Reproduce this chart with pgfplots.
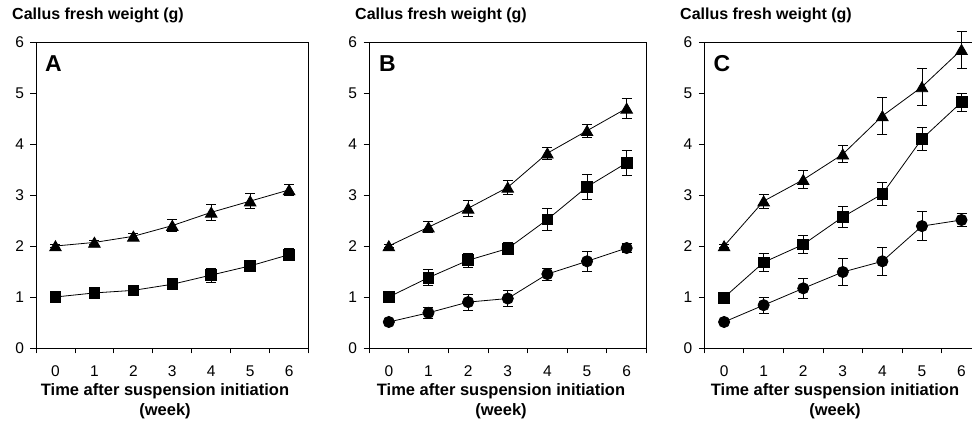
\documentclass[border=0pt]{standalone}
\usepackage{fontspec}
\setmainfont{Liberation Sans}
\usepackage{pgfplots}
\pgfplotsset{compat=1.18}

\pgfplotsset{
  panel/.style={
    scale only axis, height=306bp, clip=false,
    xmin=-0.5, xmax=6.5, ymin=0, ymax=6,
    xtick={-0.5,0.5,...,6.5}, xticklabels={0,1,2,3,4,5,6},
    x tick label as interval,
    ytick={0,...,6},
    tick pos=left, tick align=outside,
    major tick length=5.5bp,
    tick style={black, line width=0.8bp},
    axis line style={black, line width=0.8bp},
    /pgf/number format/assume math mode=true,
    tick label style={font=\fontsize{15.5bp}{15.5bp}\selectfont},
    xticklabel style={yshift=-9bp},
    yticklabel style={xshift=-3bp},
  },
  ser/.style={black, line width=0.8bp, mark=#1,
    mark options={solid, fill=black},
    error bars/y dir=both, error bars/y explicit,
    error bars/error mark=-,
    error bars/error bar style={line width=0.8bp},
    error bars/error mark options={black, line width=0.8bp, mark size=5bp, rotate=90}},
  tri/.style={ser=triangle*, mark size=6.7bp, mark options={yshift=-1.5bp}},
  sq/.style={ser=square*, mark size=5.4bp},
  circ/.style={ser=*, mark size=5.6bp},
}
\tikzset{letter/.style={anchor=north west, inner sep=0pt, font=\fontsize{23bp}{23bp}\selectfont\bfseries}}
\newcommand{\ttl}{\fontsize{16bp}{20bp}\selectfont\bfseries}
\newcommand{\xttl}{\fontsize{16.5bp}{20bp}\selectfont\bfseries}

\begin{document}
\begin{tikzpicture}
\path[use as bounding box, clip] (0,0) rectangle (972bp,425bp);

% panel A
\begin{axis}[panel, width=272.6bp, at={(36bp,77bp)}, anchor=south west]
\addplot[tri] coordinates {(0,2.00) +- (0,0.03) (1,2.07) +- (0,0.04) (2,2.19) +- (0,0.06)
  (3,2.40) +- (0,0.12) (4,2.66) +- (0,0.16) (5,2.88) +- (0,0.15) (6,3.10) +- (0,0.10)};
\addplot[sq] coordinates {(0,1.00) +- (0,0.03) (1,1.08) +- (0,0.05) (2,1.13) +- (0,0.08)
  (3,1.25) +- (0,0.09) (4,1.43) +- (0,0.14) (5,1.61) +- (0,0.06) (6,1.83) +- (0,0.12)};
\node[letter] at (rel axis cs:0,1) [xshift=9bp, yshift=-13bp] {A};
\end{axis}

% panel B
\begin{axis}[panel, width=277.5bp, at={(369bp,77bp)}, anchor=south west]
\addplot[tri] coordinates {(0,2.00) +- (0,0.03) (1,2.37) +- (0,0.11) (2,2.74) +- (0,0.15)
  (3,3.15) +- (0,0.13) (4,3.82) +- (0,0.12) (5,4.26) +- (0,0.13) (6,4.70) +- (0,0.19)};
\addplot[sq] coordinates {(0,1.00) +- (0,0.04) (1,1.38) +- (0,0.16) (2,1.72) +- (0,0.13)
  (3,1.95) +- (0,0.12) (4,2.52) +- (0,0.22) (5,3.16) +- (0,0.24) (6,3.63) +- (0,0.25)};
\addplot[circ] coordinates {(0,0.51) +- (0,0.03) (1,0.69) +- (0,0.10) (2,0.90) +- (0,0.16)
  (3,0.97) +- (0,0.16) (4,1.45) +- (0,0.12) (5,1.70) +- (0,0.20) (6,1.96) +- (0,0.09)};
\node[letter] at (rel axis cs:0,1) [xshift=10bp, yshift=-13bp] {B};
\end{axis}

% panel C
\begin{axis}[panel, width=277bp, at={(704.3bp,77bp)}, anchor=south west]
\addplot[tri] coordinates {(0,2.00) +- (0,0.03) (1,2.88) +- (0,0.14) (2,3.30) +- (0,0.18)
  (3,3.80) +- (0,0.17) (4,4.55) +- (0,0.36) (5,5.12) +- (0,0.36) (6,5.85) +- (0,0.36)};
\addplot[sq] coordinates {(0,0.99) +- (0,0.04) (1,1.68) +- (0,0.17) (2,2.03) +- (0,0.17)
  (3,2.57) +- (0,0.20) (4,3.02) +- (0,0.23) (5,4.10) +- (0,0.22) (6,4.82) +- (0,0.18)};
\addplot[circ] coordinates {(0,0.51) +- (0,0.03) (1,0.84) +- (0,0.16) (2,1.17) +- (0,0.20)
  (3,1.49) +- (0,0.27) (4,1.70) +- (0,0.27) (5,2.39) +- (0,0.28) (6,2.51) +- (0,0.12)};
\node[letter] at (rel axis cs:0,1) [xshift=9bp, yshift=-13bp] {C};
\end{axis}

% y titles
\foreach \xx in {12,355,680}
  \node[anchor=base west, inner sep=0pt, font=\ttl] at (\xx bp,405bp) {Callus fresh weight (g)};
% x titles (base anchor = last line)
\foreach \xx in {165,501,835}
  \node[anchor=base, inner sep=0pt, align=center, font=\xttl] at (\xx bp,10bp)
    {Time after suspension initiation\\(week)};
\end{tikzpicture}
\end{document}
